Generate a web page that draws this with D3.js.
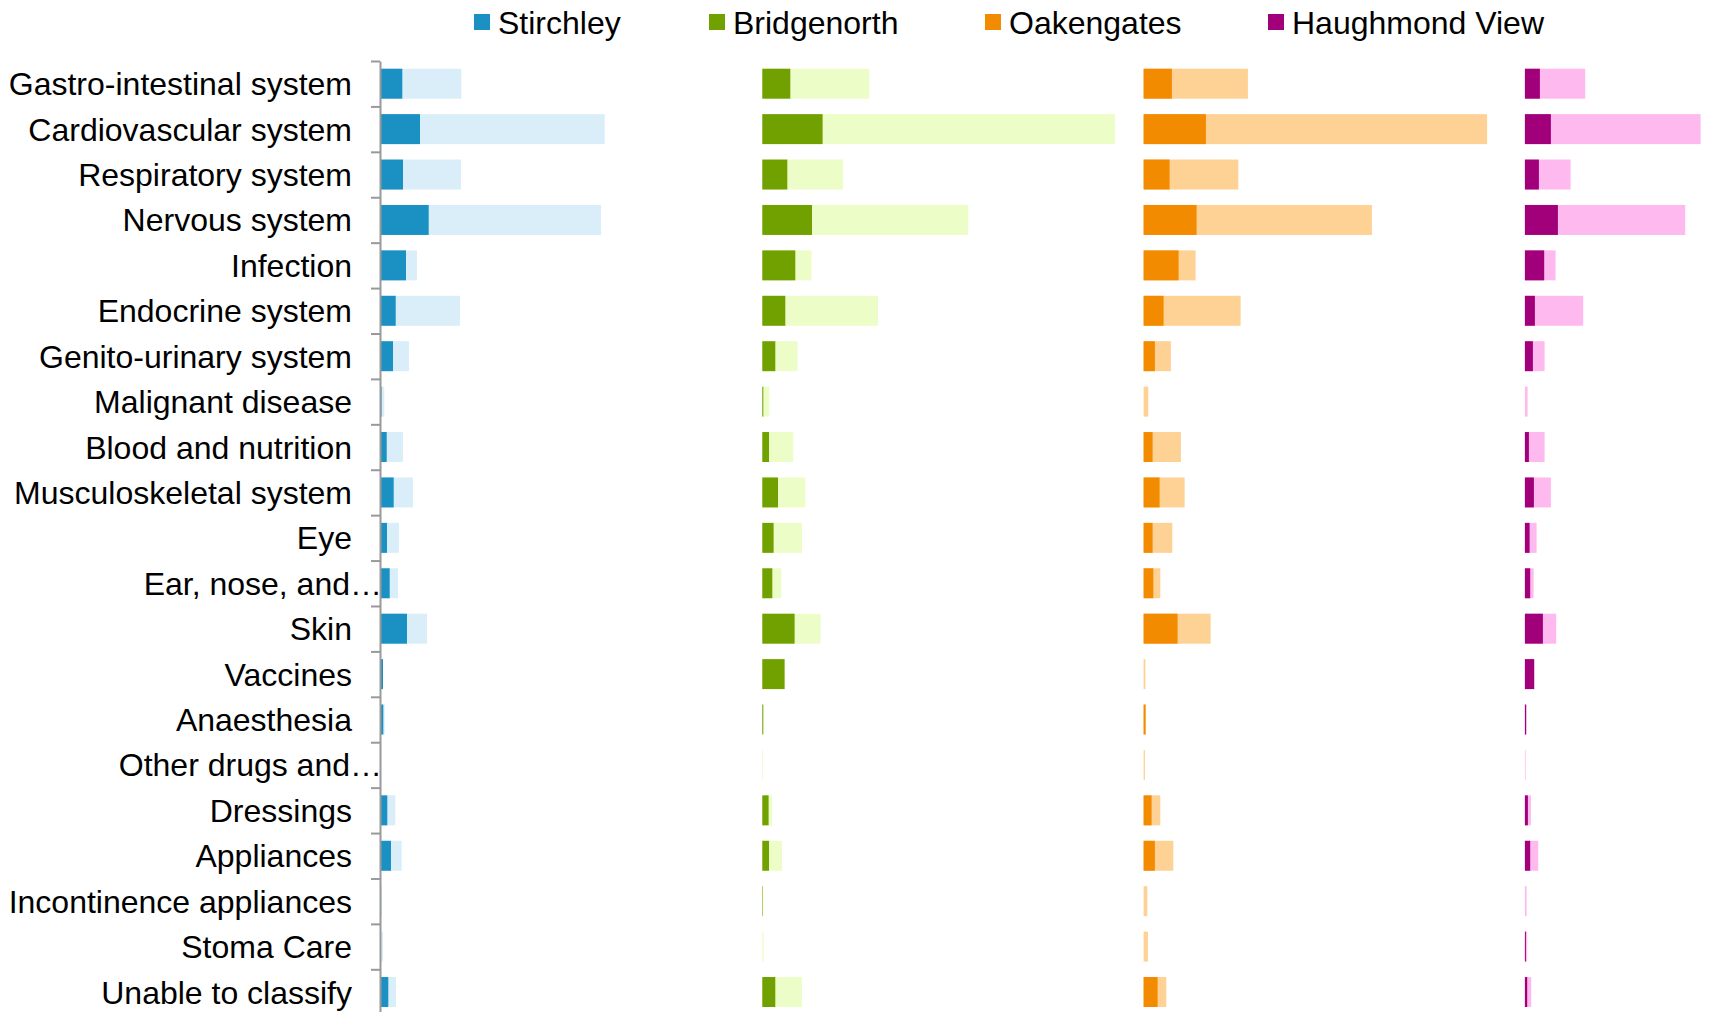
<!DOCTYPE html>
<html>
<head>
<meta charset="utf-8">
<script src="https://cdn.jsdelivr.net/npm/d3@7"></script>
<style>
  html, body { margin: 0; padding: 0; background: #ffffff; }
  svg { display: block; font-family: "Liberation Sans", Arial, sans-serif; }
</style>
</head>
<body>
<svg id="chart" width="1710" height="1012"></svg>
<script>
// ---- data ----
const categories = [
  "Gastro-intestinal system", "Cardiovascular system", "Respiratory system",
  "Nervous system", "Infection", "Endocrine system", "Genito-urinary system",
  "Malignant disease", "Blood and nutrition", "Musculoskeletal system", "Eye",
  "Ear, nose, and…", "Skin", "Vaccines", "Anaesthesia", "Other drugs and…",
  "Dressings", "Appliances", "Incontinence appliances", "Stoma Care",
  "Unable to classify"
];
const sites = ["Stirchley", "Bridgenorth", "Oakengates", "Haughmond View"];

// dark (subset) and total values per site
const stirchleyDark  = [21.3, 39, 22, 47.7, 25, 14.7, 12, 0.5, 5.7, 12.7, 6, 8.7, 26, 2, 2.3, 0, 6.3, 10, 0, 0, 7.3];
const stirchleyTotal = [80.3, 223.7, 80, 220, 36, 79, 28, 3.3, 22, 32, 18, 17, 46, 2, 3.7, 0.3, 14.3, 20.7, 1, 2, 15];
const bridgenorthDark  = [28, 60.3, 25, 49.7, 33, 23, 13, 1, 6.7, 15.7, 11.3, 10, 32.3, 22.3, 1, 0, 6.3, 6.7, 0.5, 0, 13];
const bridgenorthTotal = [107, 352.7, 80.7, 206, 49.3, 115.7, 35.3, 7, 31, 43, 39.7, 19, 58.3, 22.3, 1, 0.7, 9.7, 19.7, 1, 1.3, 39.7];
const oakengatesDark  = [28.3, 62.3, 26, 53, 35, 20, 11.3, 0, 9, 16, 9, 9.7, 34, 0, 2, 0, 8, 11.3, 0, 0, 14];
const oakengatesTotal = [104.3, 343.5, 94.7, 228.3, 52, 97, 27.3, 4.7, 37.3, 41, 28.7, 16.7, 67, 1.8, 2, 1.3, 16.7, 29.7, 3.7, 4.3, 22.7];
const haughmondDark  = [15, 26, 14, 33, 19.3, 10, 8, 0, 4, 9, 4.7, 5.3, 18, 9.3, 1.3, 0, 3, 5.3, 0, 1, 2.3];
const haughmondTotal = [60.3, 175.7, 45.7, 160.3, 30.7, 58.3, 19.7, 2.7, 19.7, 26, 11.7, 8.7, 31.3, 9.3, 1.3, 0.7, 6, 13.3, 1.7, 2.3, 6.3];

const darkColors  = ["#1b90c3", "#70a100", "#f38b00", "#a2007a"];
const lightColors = ["#d9eef9", "#edfdc8", "#fed195", "#feb9ee"];

const darkSeries  = [stirchleyDark, bridgenorthDark, oakengatesDark, haughmondDark];
const totalSeries = [stirchleyTotal, bridgenorthTotal, oakengatesTotal, haughmondTotal];

// ---- layout ----
const svg = d3.select("#chart");
const plotTop = 61, step = 45.415;
const plotBottom = plotTop + step * categories.length;
const axisX = 380;

const y = d3.scaleBand()
  .domain(categories)
  .range([plotTop, plotBottom])
  .paddingInner(0.34)
  .paddingOuter(0.17);

const panel = d3.scaleBand()
  .domain(sites)
  .range([381, 381 + 381.3 * sites.length]);

const x = d3.scaleLinear().domain([0, 381]).range([0, 381]);

// panels
sites.forEach((site, si) => {
  const g = svg.append("g").attr("transform", `translate(${panel(site)},0)`);
  const rows = categories.map((c, i) => ({ c, dark: darkSeries[si][i], total: totalSeries[si][i] }));
  g.selectAll("rect.total").data(rows).join("rect")
    .attr("class", "total")
    .attr("x", x(0))
    .attr("y", d => y(d.c))
    .attr("width", d => x(d.total))
    .attr("height", y.bandwidth())
    .attr("fill", lightColors[si]);
  g.selectAll("rect.dark").data(rows).join("rect")
    .attr("class", "dark")
    .attr("x", x(0))
    .attr("y", d => y(d.c))
    .attr("width", d => x(d.dark))
    .attr("height", y.bandwidth())
    .attr("fill", darkColors[si]);
});

// category axis with ticks between categories
const yEdge = d3.scaleLinear().domain([0, categories.length]).range([plotTop, plotBottom]);
const axisG = svg.append("g")
  .attr("transform", `translate(${axisX},0)`)
  .call(d3.axisLeft(yEdge).tickValues(d3.range(categories.length + 1)).tickSize(9).tickFormat("").tickSizeOuter(0));
axisG.select(".domain").attr("stroke", "#999999").attr("stroke-width", 2);
axisG.selectAll(".tick line").attr("stroke", "#999999").attr("stroke-width", 2);

// category labels
svg.append("g").selectAll("text").data(categories).join("text")
  .attr("x", d => d.endsWith("…") ? axisX + 2 : 352)
  .attr("y", d => y(d) + y.bandwidth() / 2)
  .attr("dy", "0.36em")
  .attr("text-anchor", "end")
  .attr("font-size", 32)
  .attr("fill", "#000000")
  .text(d => d);

// legend
const legendX = [474, 709, 985, 1268];
const legend = svg.append("g").selectAll("g").data(sites).join("g")
  .attr("transform", (d, i) => `translate(${legendX[i]},0)`);
legend.append("rect")
  .attr("x", 0).attr("y", 14).attr("width", 16).attr("height", 16)
  .attr("fill", (d, i) => darkColors[i]);
legend.append("text")
  .attr("x", 24).attr("y", 22).attr("dy", "0.36em")
  .attr("font-size", 32).attr("fill", "#000000")
  .text(d => d);
</script>
</body>
</html>
